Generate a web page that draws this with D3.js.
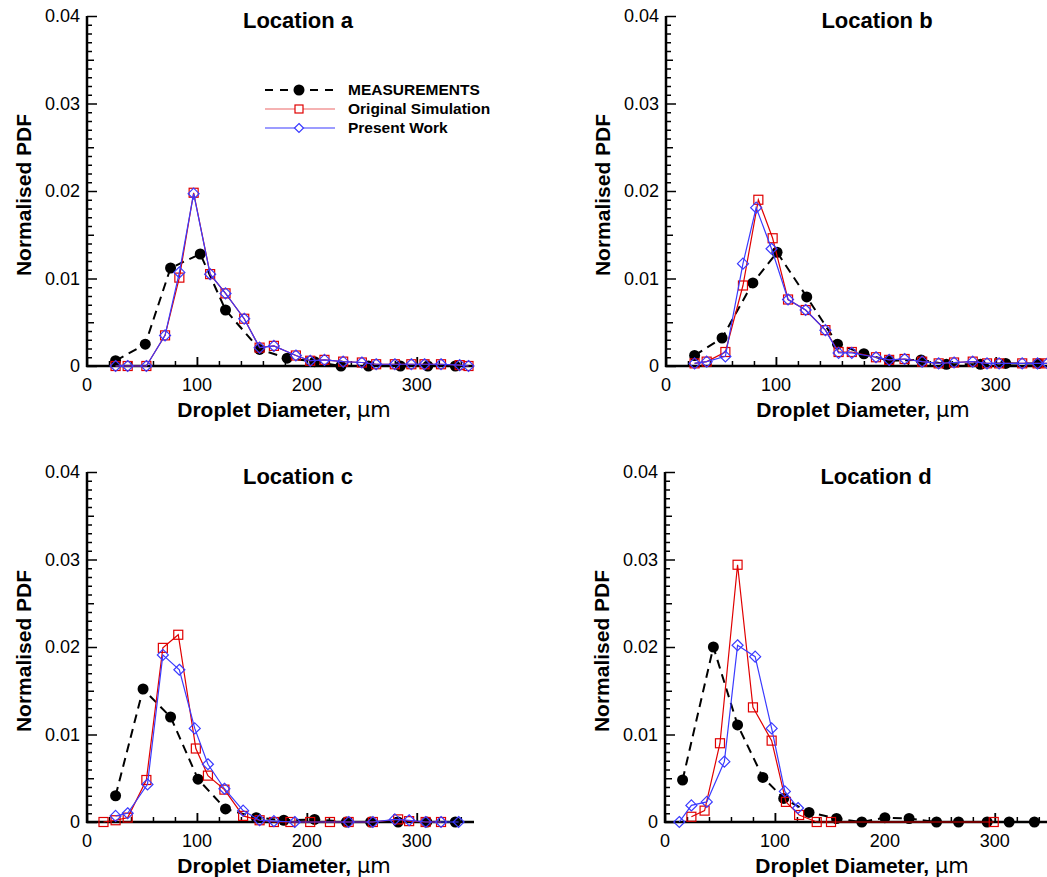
<!DOCTYPE html>
<html>
<head>
<meta charset="utf-8">
<script src="https://cdn.jsdelivr.net/npm/d3@7"></script>
<style>
  body { margin: 0; background: #fff; }
  svg { display: block; font-family: "Liberation Sans", Arial, Helvetica, sans-serif; }
</style>
</head>
<body>
<svg width="1047" height="877"></svg>
<script>
// data (diameter in micrometres, normalised pdf)
var measA_x = [26, 53, 76, 103, 126, 157, 182, 207, 231, 256, 285, 310, 335];
var measA_y = [0.0006, 0.0025, 0.0112, 0.0128, 0.0064, 0.0019, 0.0009, 0.0005, 0, 0, 0, 0, 0];
var simA_x = [26, 37, 54, 71, 84, 97, 112, 126, 143, 157, 170, 190, 203, 216, 233, 250, 263, 280, 295, 307, 322, 339, 347];
var simA_y = [0, 0, 0, 0.0035, 0.0101, 0.0198, 0.0105, 0.0083, 0.0054, 0.0021, 0.0023, 0.0012, 0.0006, 0.0007, 0.0005, 0.0004, 0.0002, 0.0002, 0.0002, 0.0002, 0.0002, 0.0001, 0];
var presA_x = simA_x;
var presA_y = [0, 0, 0, 0.0035, 0.0107, 0.0197, 0.0105, 0.0083, 0.0054, 0.0021, 0.0023, 0.0012, 0.0006, 0.0007, 0.0005, 0.0004, 0.0002, 0.0002, 0.0002, 0.0002, 0.0002, 0.0001, 0];

var measB_x = [26, 51, 79, 101, 128, 156, 180, 203, 232, 255, 286, 309, 339];
var measB_y = [0.0012, 0.0032, 0.0095, 0.0130, 0.0079, 0.0025, 0.0014, 0.0006, 0.0007, 0.0002, 0.0002, 0.0003, 0.0003];
var simB_x = [26, 37, 54, 70, 84, 97, 111, 127, 145, 157, 169, 191, 203, 217, 233, 248, 262, 279, 292, 303, 324, 338, 347];
var simB_y = [0.0003, 0.0005, 0.0016, 0.0092, 0.0190, 0.0146, 0.0076, 0.0064, 0.0041, 0.0016, 0.0016, 0.0010, 0.0007, 0.0008, 0.0005, 0.0003, 0.0004, 0.0005, 0.0003, 0.0003, 0.0003, 0.0003, 0.0003];
var presB_x = [26, 37, 54, 70, 82, 96, 111, 127, 145, 157, 169, 191, 203, 217, 233, 248, 262, 279, 292, 303, 324, 338, 347];
var presB_y = [0.0003, 0.0005, 0.0011, 0.0117, 0.0181, 0.0134, 0.0076, 0.0064, 0.0041, 0.0015, 0.0015, 0.0010, 0.0007, 0.0008, 0.0005, 0.0003, 0.0004, 0.0005, 0.0003, 0.0003, 0.0003, 0.0003, 0.0003];

var measC_x = [26, 51, 76, 101, 126, 154, 179, 207, 236, 258, 283, 309, 335];
var measC_y = [0.0030, 0.0152, 0.0120, 0.0049, 0.0015, 0.0005, 0.0002, 0.0003, 0, 0, 0, 0, 0];
var simC_x = [15, 26, 37, 54, 69, 83, 99, 110, 125, 142, 157, 170, 185, 203, 221, 238, 260, 283, 293, 308, 322];
var simC_y = [0, 0.0002, 0.0005, 0.0048, 0.0199, 0.0214, 0.0084, 0.0053, 0.0037, 0.0007, 0.0002, 0, 0, 0, 0, 0, 0, 0.0003, 0.0001, 0, 0];
var presC_x = [26, 37, 55, 69, 84, 98, 110, 125, 142, 157, 170, 189, 238, 260, 280, 293, 308, 322, 338];
var presC_y = [0.0007, 0.0010, 0.0043, 0.0191, 0.0174, 0.0107, 0.0066, 0.0038, 0.0013, 0.0002, 0.0001, 0, 0, 0, 0.0003, 0.0002, 0, 0, 0];

var measD_x = [16, 44, 66, 89, 108, 131, 156, 179, 200, 222, 247, 267, 293, 313, 336];
var measD_y = [0.0048, 0.0200, 0.0111, 0.0051, 0.0027, 0.0011, 0.0004, 0, 0.0005, 0.0004, 0, 0, 0, 0, 0];
var simD_x = [24, 36, 50, 66, 80, 97, 110, 122, 138, 151, 299];
var simD_y = [0.0006, 0.0013, 0.0090, 0.0294, 0.0131, 0.0093, 0.0023, 0.0008, 0, 0, 0];
var presD_x = [13, 24, 38, 54, 66, 82, 97, 109, 121];
var presD_y = [0, 0.0019, 0.0023, 0.0069, 0.0202, 0.0189, 0.0107, 0.0035, 0.0016];

var titles = ["Location a", "Location b", "Location c", "Location d"];
var xTicks = [0, 100, 200, 300];
var yTicks = [0, 0.01, 0.02, 0.03, 0.04];
var seriesNames = ["MEASUREMENTS", "Original Simulation", "Present Work"];

var red = "#e00000", blue = "#3a3aff";

var svg = d3.select("svg");

// panel positions (left edge of y axis, top and bottom of plot)
var panels = [
  {title: titles[0], left: 87, top: 16, bottom: 366,
   meas: [measA_x, measA_y], sim: [simA_x, simA_y], pres: [presA_x, presA_y]},
  {title: titles[1], left: 666, top: 16, bottom: 366,
   meas: [measB_x, measB_y], sim: [simB_x, simB_y], pres: [presB_x, presB_y]},
  {title: titles[2], left: 87, top: 472, bottom: 822,
   meas: [measC_x, measC_y], sim: [simC_x, simC_y], pres: [presC_x, presC_y]},
  {title: titles[3], left: 665, top: 472, bottom: 822,
   meas: [measD_x, measD_y], sim: [simD_x, simD_y], pres: [presD_x, presD_y]}
];

function zip(a) {
  return a[0].map(function(v, i) { return [v, a[1][i]]; });
}

// square turned on its corner, as in the original plot
var diamond = "M0,-5.5L5.5,0L0,5.5L-5.5,0Z";

panels.forEach(function(p, idx) {
  var x = d3.scaleLinear().domain([0, 352]).range([p.left, p.left + 387]);
  var y = d3.scaleLinear().domain([0, 0.04]).range([p.bottom, p.top]);
  var g = svg.append("g");

  // minor ticks on y (every 0.001, medium at 0.005)
  var yMinor = d3.range(0, 41).map(function(i) { return i / 1000; });
  g.append("g")
      .attr("transform", "translate(" + p.left + ",0)")
      .call(d3.axisRight(y).tickValues(yMinor)
        .tickSize(0).tickFormat(""))
    .selectAll(".tick line")
      .attr("x2", function(d, i) { return i % 10 == 0 ? 10 : (i % 5 == 0 ? 7 : 5); })
      .attr("stroke", "#000").attr("stroke-width", 1.5);

  // x ticks every 20
  var xMinor = d3.range(0, 352, 20).concat(d3.range(100, 352, 100));
  g.append("g")
      .attr("transform", "translate(0," + p.bottom + ")")
      .call(d3.axisTop(x).tickValues(xMinor).tickSize(0).tickFormat(""))
    .selectAll(".tick line")
      .attr("y2", function(d) { return d % 100 == 0 ? -9 : -5; })
      .attr("stroke", "#000").attr("stroke-width", 1.5);

  g.selectAll(".domain").remove();

  // axis lines
  g.append("line").attr("x1", p.left).attr("x2", p.left)
      .attr("y1", p.top).attr("y2", p.bottom + 1)
      .attr("stroke", "#000").attr("stroke-width", 2.5);
  g.append("line").attr("x1", p.left - 1).attr("x2", x(352))
      .attr("y1", p.bottom).attr("y2", p.bottom)
      .attr("stroke", "#000").attr("stroke-width", 2.5);

  // tick labels
  g.selectAll(".ylab").data(yTicks).enter().append("text")
      .attr("x", p.left - 7).attr("y", function(d) { return y(d) + 6; })
      .attr("text-anchor", "end").attr("font-size", 18)
      .text(function(d) { return d == 0 ? "0" : d.toFixed(2); });
  g.selectAll(".xlab").data(xTicks).enter().append("text")
      .attr("x", function(d) { return x(d); }).attr("y", p.bottom + 25)
      .attr("text-anchor", "middle").attr("font-size", 18)
      .text(function(d) { return d; });

  // titles and axis labels
  g.append("text").attr("x", p.left + 211).attr("y", p.top + 12)
      .attr("text-anchor", "middle").attr("font-size", 22).attr("font-weight", "bold")
      .text(p.title);
  var xl = g.append("text").attr("x", p.left + 197).attr("y", p.bottom + 51)
      .attr("text-anchor", "middle").attr("font-size", 21).attr("font-weight", "bold")
      .text("Droplet Diameter, ");
  xl.append("tspan").attr("font-weight", "normal").attr("font-family", "DejaVu Sans").text("\u03bcm");
  g.append("text")
      .attr("transform", "translate(" + (p.left - 56) + "," + ((p.top + p.bottom) / 2 + 4) + ") rotate(-90)")
      .attr("text-anchor", "middle").attr("font-size", 21).attr("font-weight", "bold")
      .text("Normalised PDF");

  var line = d3.line()
      .x(function(d) { return x(d[0]); })
      .y(function(d) { return y(d[1]); });

  // measurements: dashed black with filled circles
  var m = zip(p.meas);
  g.append("path").datum(m).attr("d", line)
      .attr("fill", "none").attr("stroke", "#000").attr("stroke-width", 2)
      .attr("stroke-dasharray", "9,6");
  g.selectAll(".meas").data(m).enter().append("circle")
      .attr("cx", function(d) { return x(d[0]); })
      .attr("cy", function(d) { return y(d[1]); })
      .attr("r", 5.5).attr("fill", "#000");

  // original simulation: red squares
  var s = zip(p.sim);
  g.append("path").datum(s).attr("d", line)
      .attr("fill", "none").attr("stroke", red).attr("stroke-width", 1.2);
  g.selectAll(".sim").data(s).enter().append("rect")
      .attr("x", function(d) { return x(d[0]) - 4.5; })
      .attr("y", function(d) { return y(d[1]) - 4.5; })
      .attr("width", 9).attr("height", 9)
      .attr("fill", "none").attr("stroke", red).attr("stroke-width", 1.2);

  // present work: blue diamonds
  var w = zip(p.pres);
  g.append("path").datum(w).attr("d", line)
      .attr("fill", "none").attr("stroke", blue).attr("stroke-width", 1.2);
  g.selectAll(".pres").data(w).enter().append("path")
      .attr("d", diamond)
      .attr("transform", function(d) { return "translate(" + x(d[0]) + "," + y(d[1]) + ")"; })
      .attr("fill", "none").attr("stroke", blue).attr("stroke-width", 1.2);
});

// legend in panel a
var leg = svg.append("g");
var rows = [90, 109, 128];
seriesNames.forEach(function(name, i) {
  var yy = rows[i];
  if (i == 0) {
    leg.append("line").attr("x1", 265).attr("x2", 335).attr("y1", yy).attr("y2", yy)
        .attr("stroke", "#000").attr("stroke-width", 2).attr("stroke-dasharray", "8,7");
    leg.append("circle").attr("cx", 299).attr("cy", yy).attr("r", 5.5).attr("fill", "#000");
  } else if (i == 1) {
    leg.append("line").attr("x1", 265).attr("x2", 335).attr("y1", yy).attr("y2", yy)
        .attr("stroke", red).attr("stroke-width", 1.2).attr("opacity", 0.6);
    leg.append("rect").attr("x", 295).attr("y", yy - 4).attr("width", 8).attr("height", 8)
        .attr("fill", "#fff").attr("stroke", red).attr("stroke-width", 1.2);
  } else {
    leg.append("line").attr("x1", 265).attr("x2", 335).attr("y1", yy).attr("y2", yy)
        .attr("stroke", blue).attr("stroke-width", 1.2);
    leg.append("path").attr("d", "M0,-4.5L4.5,0L0,4.5L-4.5,0Z").attr("transform", "translate(299," + yy + ")")
        .attr("fill", "#fff").attr("stroke", blue).attr("stroke-width", 1.2);
  }
  leg.append("text").attr("x", 348).attr("y", yy + 5)
      .attr("font-size", 15.5).attr("font-weight", "bold").text(name);
});
</script>
</body>
</html>
